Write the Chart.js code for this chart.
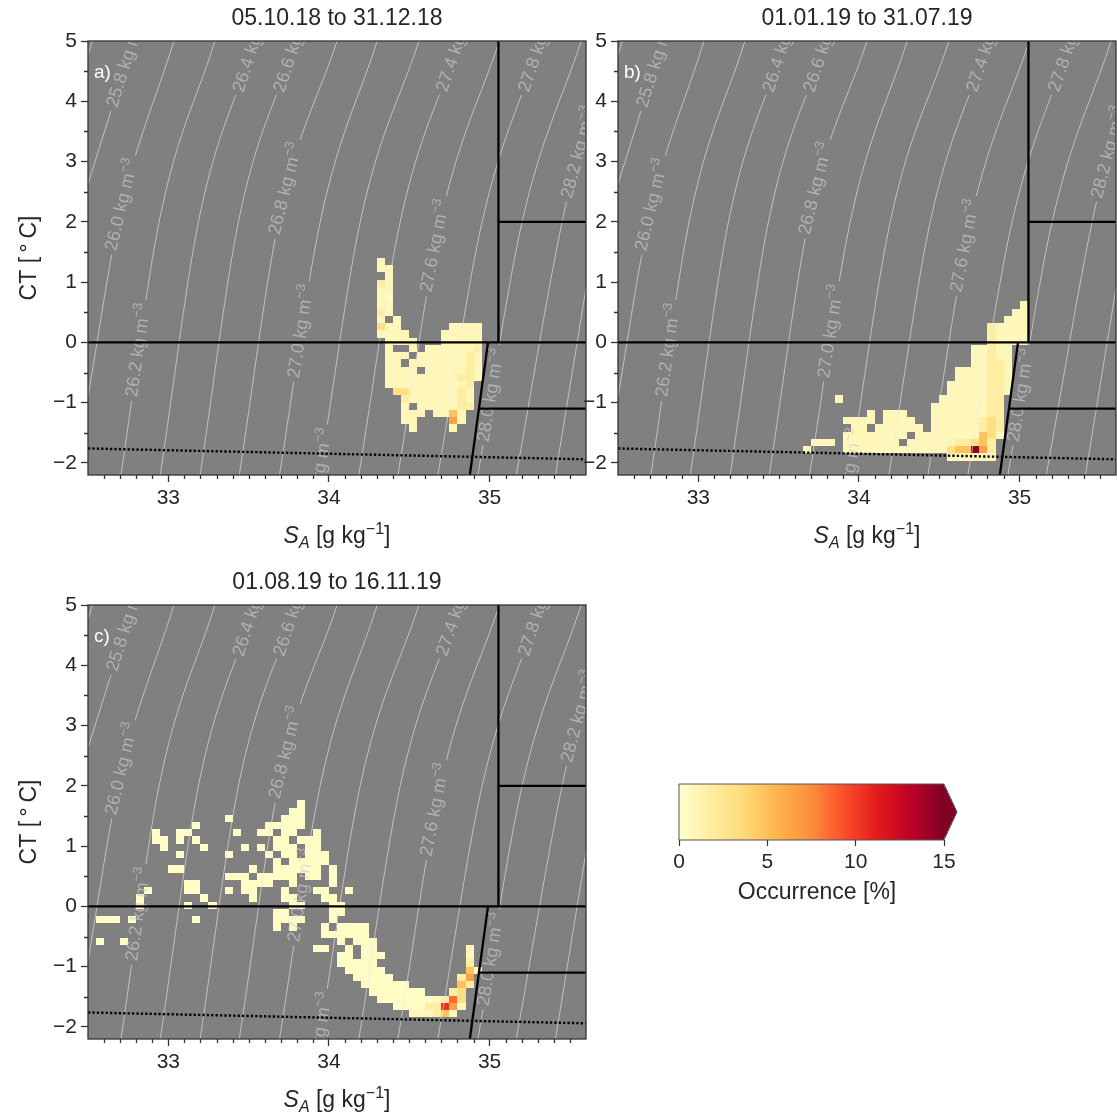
<!DOCTYPE html>
<html>
<head>
<meta charset="utf-8">
<script src="https://cdn.jsdelivr.net/npm/chart.js@4.4.1/dist/chart.umd.min.js"></script>
<style>
  html, body { margin: 0; padding: 0; background: #fff; overflow: hidden; }
  body { width: 1117px; height: 1120px; position: relative; }
  canvas { position: absolute; }
</style>
</head>
<body>
<canvas id="panelA" width="600" height="556" style="left:0;top:0"></canvas>
<canvas id="panelB" width="587" height="556" style="left:530px;top:0"></canvas>
<canvas id="panelC" width="600" height="556" style="left:0;top:564px"></canvas>
<canvas id="colorbar" width="360" height="160" style="left:640px;top:760px"></canvas>
<script>
// ---- axes ----
const panelTitles = ['05.10.18 to 31.12.18', '01.01.19 to 31.07.19', '01.08.19 to 16.11.19'];
const panelLetters = ['a)', 'b)', 'c)'];
const saRange = [32.5, 35.6];
const ctRange = [-2.2, 5];
const saTicks = [33, 34, 35];
const ctTicks = [-2, -1, 0, 1, 2, 3, 4, 5];
const cbTicks = [0, 5, 10, 15];

// ---- sigma0 isopycnals, [SA, CT] ----
const sigmaLevels = [25.6, 25.8, 26.0, 26.2, 26.4, 26.6, 26.8, 27.0, 27.2, 27.4, 27.6, 27.8, 28.0, 28.2, 28.4];
const isopycnalPoints = [
  [[32.5, 4.78], [32.528, 5]],
  [[32.5, 2.63], [32.78, 5]],
  [[32.5, -0.9], [32.69, 2.02], [33.035, 5]],
  [[32.705, -2.2], [32.944, 2.02], [33.29, 5]],
  [[32.95, -2.2], [33.189, 2.02], [33.54, 5]],
  [[33.198, -2.2], [33.438, 2.02], [33.795, 5]],
  [[33.442, -2.2], [33.687, 2.02], [34.05, 5]],
  [[33.692, -2.2], [33.947, 2.02], [34.30, 5]],
  [[33.941, -2.2], [34.196, 2.02], [34.56, 5]],
  [[34.186, -2.2], [34.445, 2.02], [34.81, 5]],
  [[34.429, -2.2], [34.695, 2.02], [35.06, 5]],
  [[34.678, -2.2], [34.955, 2.02], [35.32, 5]],
  [[34.927, -2.2], [35.204, 2.02], [35.57, 5]],
  [[35.166, -2.2], [35.453, 2.02], [35.6, 3.6]],
  [[35.41, -2.2], [35.6, 0.9]]
];
// inline contour labels: level and CT of the label centre
const labelSigma = [25.8, 26.0, 26.2, 26.4, 26.6, 26.8, 27.0, 27.2, 27.4, 27.6, 27.8, 28.0, 28.2];
const labelCT = [4.65, 2.28, -0.13, 4.9, 4.9, 2.55, 0.18, -2.2, 4.9, 1.6, 4.9, -0.88, 3.15];

// ---- water mass boundaries and surface freezing line ----
const boundaryLines = [
  [[32.5, 0], [35.6, 0]],
  [[35.055, 0], [35.055, 5]],
  [[35.055, 2], [35.6, 2]],
  [[34.99, 0], [34.877, -2.2]],
  [[34.933, -1.1], [35.6, -1.1]]
];
const freezingLine = [[32.5, -1.76], [35.6, -1.94]];

// ---- occurrence histograms ----
// rows: [CT bin centre, SA centre of first char, one char per SA bin]
// '.' = empty, digit = index into occurrenceLevels (%)
const binSA = 0.05;
const binCT = 0.12;
const occurrenceLevels = [0, 0.3, 0.8, 1.8, 3.2, 4.8, 6.5, 8.5, 10.5, 14.5];

const cellsA = [
  [1.34, 34.325, '2'],
  [1.22, 34.325, '22'],
  [1.10, 34.375, '2'],
  [0.98, 34.325, '32'],
  [0.86, 34.325, '22'],
  [0.74, 34.325, '21'],
  [0.62, 34.325, '22'],
  [0.50, 34.325, '32'],
  [0.38, 34.325, '2.2'],
  [0.26, 34.325, '422......2222'],
  [0.14, 34.325, '2222....22222'],
  [0.02, 34.375, '2222...22222'],
  [-0.10, 34.375, '2..2.2222223'],
  [-0.22, 34.375, '222.22222232'],
  [-0.34, 34.375, '22.222222232'],
  [-0.46, 34.375, '2222.2222232'],
  [-0.58, 34.375, '222222222332'],
  [-0.70, 34.375, '22222222223'],
  [-0.82, 34.425, '4422222232'],
  [-0.94, 34.475, '322222232'],
  [-1.06, 34.475, '2.2222233'],
  [-1.18, 34.475, '222.2252'],
  [-1.30, 34.475, '22....62'],
  [-1.42, 34.525, '2....2']
];

const cellsB = [
  [0.62, 35.025, '2'],
  [0.50, 34.975, '22'],
  [0.38, 34.925, '222'],
  [0.26, 34.825, '32222'],
  [0.14, 34.825, '32222'],
  [0.02, 34.825, '32222'],
  [-0.10, 34.725, '22322'],
  [-0.22, 34.725, '22322'],
  [-0.34, 34.725, '22332'],
  [-0.46, 34.625, '2222332'],
  [-0.58, 34.625, '2222332'],
  [-0.70, 34.575, '22222332'],
  [-0.82, 34.575, '22222332'],
  [-0.94, 33.875, '2'],
  [-0.94, 34.525, '22222233'],
  [-1.06, 34.475, '222222233'],
  [-1.18, 34.075, '2'],
  [-1.18, 34.175, '222'],
  [-1.18, 34.475, '222222233'],
  [-1.30, 33.925, '2222'],
  [-1.30, 34.175, '2222'],
  [-1.30, 34.475, '222222343'],
  [-1.42, 33.975, '22.222222.222222343'],
  [-1.54, 33.925, '22222222.22222222542'],
  [-1.66, 33.725, '222'],
  [-1.66, 33.925, '2222222.22222233453'],
  [-1.78, 33.675, '2'],
  [-1.78, 33.925, '2222222222222455963'],
  [-1.90, 34.575, '222222']
];

const cellsC = [
  [1.70, 33.825, '1'],
  [1.58, 33.775, '11'],
  [1.46, 33.375, '1......111'],
  [1.34, 33.175, '1........11111'],
  [1.22, 32.925, '1..11.....1..11.11..1'],
  [1.10, 32.925, '11.1.1.........11.111'],
  [0.98, 32.975, '1....1....1.1.111.11'],
  [0.86, 33.075, '1.....1....1.11.111'],
  [0.74, 33.675, '1.11111'],
  [0.62, 33.025, '11........1..111111.1'],
  [0.50, 33.375, '111.11111.11.1'],
  [0.38, 33.125, '11.....1111..1....1'],
  [0.26, 32.875, '1....11...1.11...1...11..1'],
  [0.14, 32.825, '1.......1.....1...11...11'],
  [0.02, 32.825, '1.....1..1.........11...11'],
  [-0.10, 33.675, '11.....11'],
  [-0.22, 32.575, '111.1.......1.........1111...1'],
  [-0.34, 33.675, '1.1...1.1111'],
  [-0.46, 33.975, '111111'],
  [-0.58, 32.575, '1..1'],
  [-0.58, 34.075, '1.111'],
  [-0.70, 33.925, '11..1.11'],
  [-0.70, 34.875, '2'],
  [-0.82, 34.075, '11.111'],
  [-0.82, 34.875, '2'],
  [-0.94, 34.075, '11111'],
  [-0.94, 34.875, '3'],
  [-1.06, 34.125, '11111'],
  [-1.06, 34.875, '52'],
  [-1.18, 34.175, '11111'],
  [-1.18, 34.825, '36'],
  [-1.30, 34.225, '111111'],
  [-1.30, 34.825, '53'],
  [-1.42, 34.275, '1111111'],
  [-1.42, 34.775, '34'],
  [-1.54, 34.325, '11111112374'],
  [-1.66, 34.425, '111133862'],
  [-1.78, 34.525, '222352']
];

// ---- style ----
const FONT = "'Liberation Sans', Arial, sans-serif";
const TEXT_COLOR = '#262626';
const AXIS_COLOR = '#333';
const PLOT_BG = '#808080';
const ISO_LINE_COLOR = 'rgba(232,232,232,0.62)';
const ISO_LABEL_COLOR = 'rgba(205,205,205,0.62)';
const LABEL_PX = 18;
const OCC_MAX = 15;
const YL_OR_RD = ['#ffffcc', '#ffeda0', '#fed976', '#feb24c', '#fd8d3c', '#fc4e2a', '#e31a1c', '#bd0026', '#800026'];

Chart.defaults.font.family = FONT;
Chart.defaults.color = TEXT_COLOR;

const hexToRgb = h => [1, 3, 5].map(i => parseInt(h.slice(i, i + 2), 16));

function occurrenceColor(v) {
  const n = YL_OR_RD.length - 1;
  const t = Math.min(Math.max(v / OCC_MAX, 0), 1) * n;
  const i = Math.min(Math.floor(t), n - 1);
  const f = t - i;
  const a = hexToRgb(YL_OR_RD[i]);
  const b = hexToRgb(YL_OR_RD[i + 1]);
  const c = a.map((x, k) => Math.round(x + (b[k] - x) * f));
  return `rgb(${c[0]},${c[1]},${c[2]})`;
}

const fmtTick = v => String(v).replace('-', '\u2212');

function drawCells(chart, rows) {
  const { ctx, scales: { x, y } } = chart;
  ctx.save();
  rows.forEach(([ct, saFirst, codes]) => {
    const yTop = Math.round(y.getPixelForValue(ct + binCT / 2));
    const yBot = Math.round(y.getPixelForValue(ct - binCT / 2));
    [...codes].forEach((code, i) => {
      if (code === '.') return;
      const sa = saFirst + i * binSA;
      const xL = Math.round(x.getPixelForValue(sa - binSA / 2));
      const xR = Math.round(x.getPixelForValue(sa + binSA / 2));
      ctx.fillStyle = occurrenceColor(occurrenceLevels[+code]);
      ctx.fillRect(xL, yTop, xR - xL, yBot - yTop);
    });
  });
  ctx.restore();
}

// position and angle of each contour label, taken from the drawn bezier curve
function isoLabelGeometry(chart) {
  const { ctx, scales: { y } } = chart;
  const mainFont = `${LABEL_PX}px ${FONT}`;
  const supFont = `${Math.round(LABEL_PX * 0.7)}px ${FONT}`;
  ctx.save();
  const out = [];
  labelSigma.forEach((sig, k) => {
    const meta = chart.getDatasetMeta(sigmaLevels.indexOf(sig));
    meta.dataset.updateControlPoints(chart.chartArea, 'x');
    const pts = meta.data;
    const py = y.getPixelForValue(labelCT[k]);
    for (let s = 0; s < pts.length - 1; s++) {
      const p0 = pts[s], p3 = pts[s + 1];
      if (py > p0.y + 0.01 || py < p3.y - 0.01) continue;
      const p1 = { x: p0.cp2x ?? p0.x, y: p0.cp2y ?? p0.y };
      const p2 = { x: p3.cp1x ?? p3.x, y: p3.cp1y ?? p3.y };
      const bz = (t, a, b, c, d) => {
        const u = 1 - t;
        return u * u * u * a + 3 * u * u * t * b + 3 * u * t * t * c + t * t * t * d;
      };
      const dbz = (t, a, b, c, d) => {
        const u = 1 - t;
        return 3 * u * u * (b - a) + 6 * u * t * (c - b) + 3 * t * t * (d - c);
      };
      let lo = 0, hi = 1;
      for (let it = 0; it < 40; it++) {
        const mid = (lo + hi) / 2;
        if (bz(mid, p0.y, p1.y, p2.y, p3.y) > py) lo = mid; else hi = mid;
      }
      const t = (lo + hi) / 2;
      const main = `${sig.toFixed(1)} kg m`;
      const sup = '\u22123';
      ctx.font = mainFont;
      const mainW = ctx.measureText(main).width;
      ctx.font = supFont;
      const supW = ctx.measureText(sup).width;
      out.push({
        x: bz(t, p0.x, p1.x, p2.x, p3.x),
        y: bz(t, p0.y, p1.y, p2.y, p3.y),
        angle: Math.atan2(dbz(t, p0.y, p1.y, p2.y, p3.y), dbz(t, p0.x, p1.x, p2.x, p3.x)),
        main, sup, mainW, w: mainW + supW, mainFont, supFont
      });
      break;
    }
  });
  ctx.restore();
  return out;
}

function drawIsoLabels(chart, labels) {
  const { ctx, chartArea: a } = chart;
  ctx.save();
  ctx.beginPath();
  ctx.rect(a.left, a.top, a.right - a.left, a.bottom - a.top);
  ctx.clip();
  ctx.fillStyle = ISO_LABEL_COLOR;
  ctx.textBaseline = 'middle';
  ctx.textAlign = 'left';
  labels.forEach(g => {
    ctx.save();
    ctx.translate(g.x, g.y);
    ctx.rotate(g.angle);
    ctx.font = g.mainFont;
    ctx.fillText(g.main, -g.w / 2, 0);
    ctx.font = g.supFont;
    ctx.fillText(g.sup, -g.w / 2 + g.mainW, -LABEL_PX * 0.36);
    ctx.restore();
  });
  ctx.restore();
}

// contour lines are broken where a label sits
function clipOutLabels(chart, labels) {
  const { ctx } = chart;
  ctx.save();
  ctx.beginPath();
  ctx.rect(0, 0, chart.width, chart.height);
  labels.forEach(g => {
    const hw = g.w / 2 + 4, hh = 7;
    const c = Math.cos(g.angle), s = Math.sin(g.angle);
    const corners = [[-hw, -hh], [hw, -hh], [hw, hh], [-hw, hh]]
      .map(([u, v]) => [g.x + u * c - v * s, g.y + u * s + v * c]);
    ctx.moveTo(corners[0][0], corners[0][1]);
    corners.slice(1).forEach(([px, py]) => ctx.lineTo(px, py));
    ctx.closePath();
  });
  ctx.clip('evenodd');
}

function drawSaTitle(ctx, cx, cy) {
  const parts = [
    { t: 'S', f: `italic 23px ${FONT}`, dy: 0 },
    { t: 'A', f: `italic 16px ${FONT}`, dy: 5 },
    { t: ' [g kg', f: `23px ${FONT}`, dy: 0 },
    { t: '\u22121', f: `16px ${FONT}`, dy: -9 },
    { t: ']', f: `23px ${FONT}`, dy: 0 }
  ];
  let total = 0;
  parts.forEach(p => { ctx.font = p.f; p.w = ctx.measureText(p.t).width; total += p.w; });
  let x = cx - total / 2;
  ctx.textAlign = 'left';
  ctx.textBaseline = 'alphabetic';
  parts.forEach(p => {
    ctx.font = p.f;
    ctx.fillText(p.t, x, cy + 8 + p.dy);
    x += p.w;
  });
}

function drawCtTitle(ctx, cx, cy) {
  ctx.save();
  ctx.translate(cx, cy);
  ctx.rotate(-Math.PI / 2);
  ctx.font = `23px ${FONT}`;
  ctx.textAlign = 'center';
  ctx.textBaseline = 'middle';
  ctx.fillText('CT [\u2009\u00b0\u2009C]', 0, 0);
  ctx.restore();
}

const panelInfo = {
  panelA: { title: panelTitles[0], letter: panelLetters[0], cells: cellsA, padRight: 14, ctTitle: true },
  panelB: { title: panelTitles[1], letter: panelLetters[1], cells: cellsB, padRight: 1, ctTitle: false },
  panelC: { title: panelTitles[2], letter: panelLetters[2], cells: cellsC, padRight: 14, ctTitle: true }
};

const tsPanel = {
  id: 'tsPanel',
  beforeDraw(chart) {
    const { ctx, chartArea: a } = chart;
    ctx.save();
    ctx.fillStyle = PLOT_BG;
    ctx.fillRect(a.left, a.top, a.right - a.left, a.bottom - a.top);
    ctx.restore();
  },
  beforeDatasetsDraw(chart) {
    chart.$isoLabels = isoLabelGeometry(chart);
    drawCells(chart, panelInfo[chart.canvas.id].cells);
  },
  beforeDatasetDraw(chart, args) {
    const ds = chart.data.datasets[args.index];
    if (ds.isopycnal) clipOutLabels(chart, chart.$isoLabels);
    if (ds.labelsBelow) drawIsoLabels(chart, chart.$isoLabels);
  },
  afterDatasetDraw(chart, args) {
    if (chart.data.datasets[args.index].isopycnal) chart.ctx.restore();
  },
  afterDraw(chart) {
    const info = panelInfo[chart.canvas.id];
    const { ctx, chartArea: a, scales: { x, y } } = chart;
    ctx.save();
    ctx.strokeStyle = AXIS_COLOR;
    ctx.lineWidth = 1.3;
    ctx.beginPath();
    for (let k = 326; k <= 355; k++) {
      if (k % 10 === 0) continue;
      const px = Math.round(x.getPixelForValue(k / 10)) + 0.5;
      ctx.moveTo(px, a.bottom);
      ctx.lineTo(px, a.bottom + 4);
    }
    for (let k = -15; k <= 45; k += 10) {
      const py = Math.round(y.getPixelForValue(k / 10)) + 0.5;
      ctx.moveTo(a.left, py);
      ctx.lineTo(a.left - 4, py);
    }
    ctx.stroke();
    ctx.strokeRect(a.left, a.top, a.right - a.left, a.bottom - a.top);

    ctx.fillStyle = TEXT_COLOR;
    ctx.font = `23px ${FONT}`;
    ctx.textAlign = 'center';
    ctx.textBaseline = 'middle';
    ctx.fillText(info.title, (a.left + a.right) / 2, 19);
    drawSaTitle(ctx, (a.left + a.right) / 2, a.bottom + 60);
    if (info.ctTitle) drawCtTitle(ctx, 30, (a.top + a.bottom) / 2);

    ctx.fillStyle = '#fff';
    ctx.font = `19px ${FONT}`;
    ctx.textAlign = 'left';
    ctx.textBaseline = 'middle';
    ctx.fillText(info.letter, a.left + 6, a.top + 32);
    ctx.restore();
  }
};

const toXY = pts => pts.map(([sa, ct]) => ({ x: sa, y: ct }));

function makePanel(id) {
  const info = panelInfo[id];
  const datasets = isopycnalPoints.map(pts => ({
    data: toXY(pts),
    borderColor: ISO_LINE_COLOR,
    borderWidth: 1,
    pointRadius: 0,
    cubicInterpolationMode: 'monotone',
    order: 3,
    isopycnal: true
  }));
  datasets.push({
    data: toXY(freezingLine),
    borderColor: '#000',
    borderWidth: 2.4,
    borderDash: [2.3, 2.1],
    pointRadius: 0,
    order: 2,
    labelsBelow: true
  });
  boundaryLines.forEach(line => datasets.push({
    data: toXY(line),
    borderColor: '#000',
    borderWidth: 2.3,
    pointRadius: 0,
    order: 1
  }));

  return new Chart(document.getElementById(id), {
    type: 'line',
    data: { datasets },
    options: {
      responsive: false,
      animation: false,
      devicePixelRatio: 1,
      events: [],
      layout: { padding: { top: 41, right: info.padRight, left: 0, bottom: 0 }, autoPadding: false },
      plugins: { legend: { display: false }, tooltip: { enabled: false } },
      scales: {
        x: {
          type: 'linear',
          min: saRange[0],
          max: saRange[1],
          afterBuildTicks: s => { s.ticks = saTicks.map(v => ({ value: v })); },
          afterFit: s => { s.height = 81; },
          grid: { drawOnChartArea: false, tickLength: 7, tickWidth: 1.3, tickColor: AXIS_COLOR },
          border: { display: false },
          ticks: { font: { size: 21 }, color: TEXT_COLOR, padding: 4, maxRotation: 0, callback: fmtTick }
        },
        y: {
          type: 'linear',
          min: ctRange[0],
          max: ctRange[1],
          afterBuildTicks: s => { s.ticks = ctTicks.map(v => ({ value: v })); },
          afterFit: s => { s.width = 88; },
          grid: { drawOnChartArea: false, tickLength: 7, tickWidth: 1.3, tickColor: AXIS_COLOR },
          border: { display: false },
          ticks: { font: { size: 21 }, color: TEXT_COLOR, padding: 4, callback: fmtTick }
        }
      }
    },
    plugins: [tsPanel]
  });
}

['panelA', 'panelB', 'panelC'].forEach(makePanel);

// ---- colour bar ----
const cbExtend = {
  id: 'cbExtend',
  afterDraw(chart) {
    const { ctx, chartArea: a } = chart;
    const mid = (a.top + a.bottom) / 2;
    const tip = a.right + 13;
    ctx.save();
    ctx.fillStyle = YL_OR_RD[YL_OR_RD.length - 1];
    ctx.beginPath();
    ctx.moveTo(a.right - 0.5, a.top);
    ctx.lineTo(tip, mid);
    ctx.lineTo(a.right - 0.5, a.bottom);
    ctx.closePath();
    ctx.fill();
    ctx.strokeStyle = '#555';
    ctx.lineWidth = 1;
    ctx.beginPath();
    ctx.moveTo(a.left, a.top);
    ctx.lineTo(a.right, a.top);
    ctx.lineTo(tip, mid);
    ctx.lineTo(a.right, a.bottom);
    ctx.lineTo(a.left, a.bottom);
    ctx.closePath();
    ctx.stroke();
    ctx.fillStyle = TEXT_COLOR;
    ctx.font = `23px ${FONT}`;
    ctx.textAlign = 'center';
    ctx.textBaseline = 'middle';
    ctx.fillText('Occurrence [%]', 177, 133);
    ctx.restore();
  }
};

new Chart(document.getElementById('colorbar'), {
  type: 'bar',
  data: {
    labels: ['occurrence'],
    datasets: [{
      data: [[0, OCC_MAX]],
      backgroundColor: c => {
        const area = c.chart.chartArea;
        if (!area) return YL_OR_RD[0];
        const g = c.chart.ctx.createLinearGradient(area.left, 0, area.right, 0);
        YL_OR_RD.forEach((col, i) => g.addColorStop(i / (YL_OR_RD.length - 1), col));
        return g;
      },
      borderWidth: 0,
      barPercentage: 1,
      categoryPercentage: 1
    }]
  },
  options: {
    indexAxis: 'y',
    responsive: false,
    animation: false,
    devicePixelRatio: 1,
    events: [],
    layout: { padding: { left: 39, right: 56, top: 24, bottom: 0 }, autoPadding: false },
    plugins: { legend: { display: false }, tooltip: { enabled: false } },
    scales: {
      x: {
        type: 'linear',
        min: 0,
        max: OCC_MAX,
        afterBuildTicks: s => { s.ticks = cbTicks.map(v => ({ value: v })); },
        afterFit: s => { s.height = 80; },
        grid: { drawOnChartArea: false, tickLength: 6, tickWidth: 1.2, tickColor: AXIS_COLOR },
        border: { display: false },
        ticks: { font: { size: 21 }, color: TEXT_COLOR, padding: 4, maxRotation: 0 }
      },
      y: { display: false }
    }
  },
  plugins: [cbExtend]
});
</script>
</body>
</html>
